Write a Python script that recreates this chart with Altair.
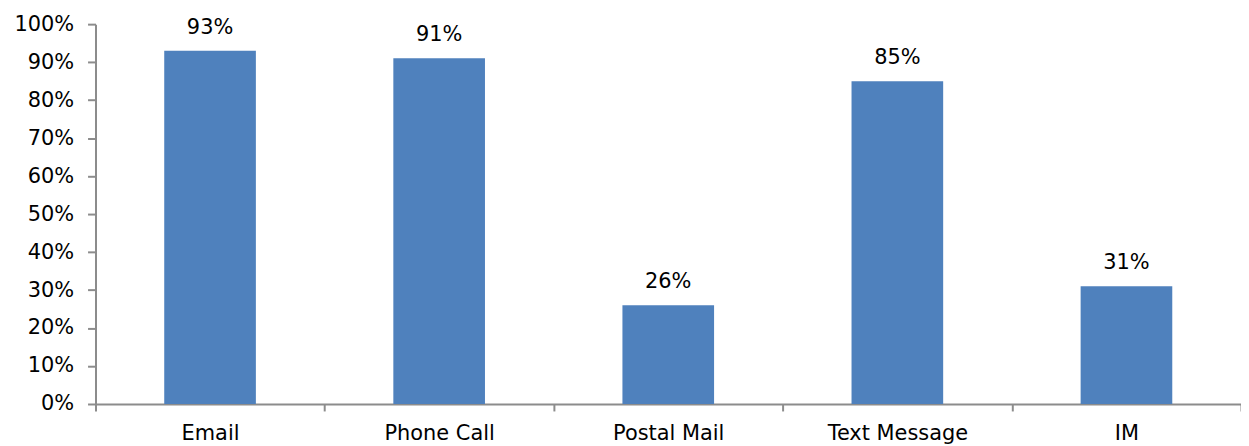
import altair as alt
import pandas as pd

categories = ["Email", "Phone Call", "Postal Mail", "Text Message", "IM"]
values = [0.93, 0.91, 0.26, 0.85, 0.31]

df = pd.DataFrame({"cat": categories, "val": values})

FONT = "DejaVu Sans"
AXIS_GRAY = "#8c8c8c"

x = alt.X(
    "cat:N",
    sort=categories,
    title=None,
    scale=alt.Scale(paddingInner=0, paddingOuter=0),
    axis=alt.Axis(
        labelAngle=0,
        labelFontSize=21,
        labelFont=FONT,
        labelColor="#000000",
        labelPadding=12,
        tickBand="extent",
        tickSize=7,
        tickColor=AXIS_GRAY,
        tickWidth=2,
        domainColor=AXIS_GRAY,
        domainWidth=2,
        grid=False,
    ),
)
y = alt.Y(
    "val:Q",
    title=None,
    scale=alt.Scale(domain=[0, 1], nice=False),
    axis=alt.Axis(
        format=".0%",
        values=[i / 10 for i in range(11)],
        labelFontSize=21,
        labelFont=FONT,
        labelColor="#000000",
        labelPadding=14,
        tickSize=8,
        tickColor=AXIS_GRAY,
        tickWidth=2,
        domainColor=AXIS_GRAY,
        domainWidth=2,
        grid=False,
    ),
)

bars = alt.Chart(df).mark_bar(
    color="#4F81BD", width=alt.RelativeBandSize(0.4)
).encode(x=x, y=y)
labels = alt.Chart(df).mark_text(
    baseline="bottom", dy=-13, fontSize=21, font=FONT, color="#000000"
).encode(x=x, y=y, text=alt.Text("val:Q", format=".0%"))

chart = (
    alt.layer(bars, labels)
    .properties(
        width=1152,
        height=382,
        autosize=alt.AutoSizeParams(type="none"),
        padding={"left": 88, "top": 15, "right": 0, "bottom": 40},
        view=alt.ViewBackground(stroke=None, strokeWidth=0, fill="white"),
    )
    .configure_view(stroke=None, strokeWidth=0)
    .configure_axis(grid=False)
    .configure(background="white")
)

chart.save("out.html", embed_options={"renderer": "svg", "actions": False})
